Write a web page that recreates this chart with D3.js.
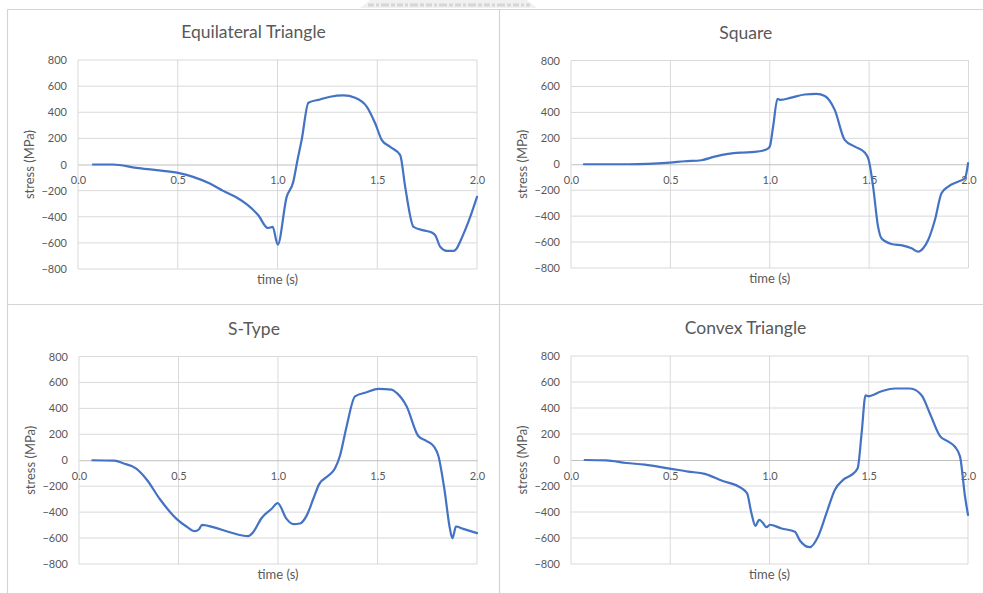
<!DOCTYPE html>
<html>
<head>
<meta charset="utf-8">
<script src="https://cdn.jsdelivr.net/npm/d3@7"></script>
<style>
  html, body { margin: 0; padding: 0; background: #fff; }
  svg { display: block; font-family: Lato, "Open Sans", sans-serif; }
</style>
</head>
<body>
<svg id="chart" width="983" height="593"></svg>
<script>
// Axis ticks shared by all four panels
const xTicks = [0, 0.5, 1.0, 1.5, 2.0];
const yTicks = [-800, -600, -400, -200, 0, 200, 400, 600, 800];
const titles = ["Equilateral Triangle", "Square", "S-Type", "Convex Triangle"];
const xLabel = "time (s)";
const yLabel = "stress (MPa)";

// Stress history, equilateral triangle profile
const equilateralTime = [0.075, 0.176, 0.293, 0.393, 0.502, 0.577, 0.661, 0.728, 0.795, 0.845, 0.904, 0.951, 0.976, 1.001, 1.046, 1.079, 1.100, 1.121, 1.155, 1.213, 1.264, 1.331, 1.389, 1.448, 1.490, 1.523, 1.565, 1.615, 1.640, 1.682, 1.732, 1.774, 1.791, 1.816, 1.849, 1.883, 1.933, 1.966, 2.0];
const equilateralStress = [0, 0, -26, -43, -64, -95, -146, -202, -253, -304, -389, -486, -478, -613, -248, -133, 33, 187, 473, 498, 519, 529, 511, 442, 314, 187, 135, 72, -171, -478, -504, -521, -542, -631, -662, -662, -529, -401, -248];

// Stress history, square profile
const squareTime = [0.065, 0.287, 0.388, 0.497, 0.572, 0.656, 0.723, 0.790, 0.857, 0.924, 0.983, 1.000, 1.017, 1.039, 1.055, 1.109, 1.176, 1.235, 1.277, 1.327, 1.377, 1.428, 1.478, 1.498, 1.520, 1.545, 1.562, 1.612, 1.671, 1.713, 1.747, 1.772, 1.797, 1.831, 1.864, 1.898, 1.948, 1.982, 1.998];
const squareStress = [0, 0, 3, 13, 23, 31, 59, 80, 90, 95, 113, 136, 291, 504, 496, 514, 538, 543, 527, 419, 188, 136, 90, 33, -172, -481, -571, -615, -628, -648, -674, -648, -584, -430, -224, -172, -134, -108, 8];

// Stress history, S-type profile
const sTypeTime = [0.067, 0.179, 0.221, 0.288, 0.339, 0.406, 0.490, 0.540, 0.582, 0.602, 0.619, 0.674, 0.758, 0.850, 0.875, 0.917, 0.967, 0.998, 1.043, 1.077, 1.110, 1.144, 1.177, 1.207, 1.252, 1.286, 1.311, 1.345, 1.387, 1.445, 1.504, 1.571, 1.596, 1.646, 1.705, 1.747, 1.784, 1.806, 1.836, 1.864, 1.876, 1.884, 1.894, 1.931, 2.0];
const sTypeStress = [0, -3, -23, -64, -146, -299, -452, -511, -547, -534, -498, -516, -555, -585, -555, -447, -376, -330, -452, -493, -488, -427, -299, -184, -120, -64, 33, 263, 493, 524, 550, 544, 519, 417, 187, 148, 105, 33, -222, -529, -601, -567, -511, -529, -562];

// Stress history, convex triangle profile
const convexTime = [0.069, 0.178, 0.279, 0.371, 0.497, 0.590, 0.674, 0.758, 0.859, 0.887, 0.909, 0.929, 0.948, 0.965, 0.985, 1.002, 1.061, 1.128, 1.153, 1.203, 1.245, 1.287, 1.329, 1.371, 1.413, 1.444, 1.464, 1.484, 1.497, 1.565, 1.632, 1.708, 1.766, 1.808, 1.859, 1.901, 1.934, 1.960, 1.985, 2.0];
const convexStress = [0, -3, -23, -36, -66, -89, -107, -158, -217, -256, -409, -506, -460, -481, -516, -498, -527, -552, -619, -670, -588, -409, -230, -153, -115, -64, 204, 498, 491, 529, 550, 550, 498, 358, 184, 141, 102, 26, -281, -422];

const series = [
  { title: titles[0], t: equilateralTime, s: equilateralStress },
  { title: titles[1], t: squareTime, s: squareStress },
  { title: titles[2], t: sTypeTime, s: sTypeStress },
  { title: titles[3], t: convexTime, s: convexStress }
];

// Plot rectangles for the 2x2 grid
const frames = [
  { left: 78,  right: 477,   top: 60,    bottom: 269,   titleY: 38 },
  { left: 571, right: 968.5, top: 60.5,  bottom: 268,   titleY: 39 },
  { left: 79,  right: 477,   top: 356.5, bottom: 564,   titleY: 335 },
  { left: 571, right: 968,   top: 356,   bottom: 564,   titleY: 334 }
];

const svg = d3.select("#chart");
const textColor = "#595959";
const gridColor = "#d9d9d9";
const lineColor = "#4472C4";

// Panel separators
const sep = svg.append("g").attr("stroke", "#d4d4d4").attr("stroke-width", 1.2);
sep.append("line").attr("x1", 7).attr("x2", 983).attr("y1", 9.5).attr("y2", 9.5);
sep.append("line").attr("x1", 7).attr("x2", 983).attr("y1", 304.5).attr("y2", 304.5);
sep.append("line").attr("x1", 7.5).attr("x2", 7.5).attr("y1", 9.5).attr("y2", 593);
sep.append("line").attr("x1", 499.5).attr("x2", 499.5).attr("y1", 9.5).attr("y2", 593);

// Faint stamp peeking in at the top edge
const stamp = svg.append("g");
stamp.append("path")
  .attr("d", "M370,0 L527,0 L537,8 L360,8 Z")
  .attr("fill", "#f1f1f1");
stamp.append("line")
  .attr("x1", 368).attr("x2", 530).attr("y1", 5).attr("y2", 5)
  .attr("stroke", "#d6d6d6").attr("stroke-width", 3)
  .attr("stroke-dasharray", "6 2 3 2 8 2 4 2");

series.forEach((d, i) => {
  const f = frames[i];
  const x = d3.scaleLinear().domain([0, 2]).range([f.left, f.right]);
  const y = d3.scaleLinear().domain([-800, 800]).range([f.bottom, f.top]);
  const g = svg.append("g");

  // Gridlines
  g.append("g").selectAll("line").data(yTicks.filter(v => v !== 0)).join("line")
    .attr("x1", f.left).attr("x2", f.right)
    .attr("y1", v => y(v)).attr("y2", v => y(v))
    .attr("stroke", gridColor).attr("stroke-width", 1);
  g.append("g").selectAll("line").data(xTicks).join("line")
    .attr("x1", v => x(v)).attr("x2", v => x(v))
    .attr("y1", f.top).attr("y2", f.bottom)
    .attr("stroke", gridColor).attr("stroke-width", 1);

  // Y axis labels
  const yAxis = g.append("g")
    .attr("transform", `translate(${f.left},0)`)
    .call(d3.axisLeft(y).tickValues(yTicks).tickSize(0).tickPadding(11).tickFormat(d3.format("d")));
  yAxis.select(".domain").remove();

  // X axis crossing at zero stress
  const xAxis = g.append("g")
    .attr("transform", `translate(0,${y(0)})`)
    .call(d3.axisBottom(x).tickValues(xTicks).tickSize(0).tickPadding(12).tickFormat(d3.format(".1f")));
  xAxis.select(".domain").attr("stroke", "#bfbfbf").attr("stroke-width", 1.2);

  g.selectAll(".tick text")
    .attr("fill", textColor)
    .style("font-size", "11px")
    .style("font-family", "Lato, 'Open Sans', sans-serif");

  // Title
  g.append("text")
    .attr("x", (f.left + f.right) / 2 - 24)
    .attr("y", f.titleY)
    .attr("text-anchor", "middle")
    .attr("fill", textColor)
    .style("font-size", "17.5px")
    .text(d.title);

  // Axis titles
  g.append("text")
    .attr("x", (f.left + f.right) / 2)
    .attr("y", f.bottom + 15)
    .attr("text-anchor", "middle")
    .attr("fill", textColor)
    .style("font-size", "13px")
    .text(xLabel);
  g.append("text")
    .attr("transform", `translate(${f.left - 44},${(f.top + f.bottom) / 2}) rotate(-90)`)
    .attr("text-anchor", "middle")
    .attr("fill", textColor)
    .style("font-size", "13px")
    .text(yLabel);

  // Stress curve
  const pts = d.t.map((t, k) => [t, d.s[k]]);
  const line = d3.line()
    .x(p => x(p[0]))
    .y(p => y(p[1]))
    .curve(d3.curveMonotoneX);
  g.append("path")
    .datum(pts)
    .attr("d", line)
    .attr("fill", "none")
    .attr("stroke", lineColor)
    .attr("stroke-width", 2.2)
    .attr("stroke-linejoin", "round")
    .attr("stroke-linecap", "round");
});
</script>
</body>
</html>
